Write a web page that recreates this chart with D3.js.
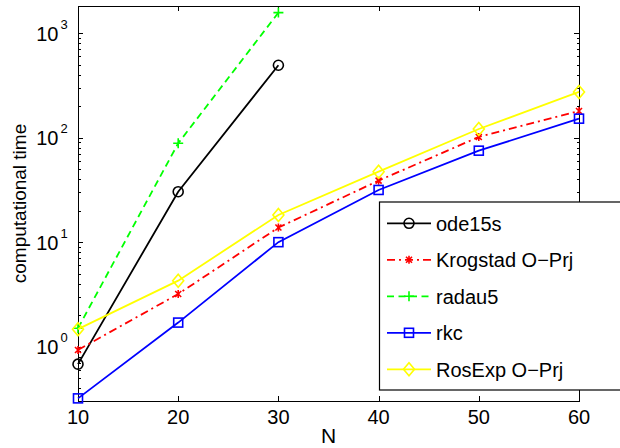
<!DOCTYPE html>
<html><head><meta charset="utf-8">
<script src="https://cdn.jsdelivr.net/npm/d3@7"></script>
<style>
body{margin:0;background:#fff}
svg{display:block}
text{font-family:"Liberation Sans",Arial,sans-serif;fill:#000}
</style>
</head><body>
<svg id="c" width="620" height="448"></svg>
<script>
// ---- data ----
const N = [10, 20, 30, 40, 50, 60];
const ode15s = [0.68, 30.4, 493];
const krogstad = [0.93, 3.19, 13.8, 38.8, 101.6, 180];
const radau5 = [1.5, 88.4, 1573];
const rkc = [0.32, 1.70, 10.0, 31.6, 75.1, 152];
const rosexp = [1.47, 4.28, 18.2, 47.3, 121, 274];
const seriesNames = ["ode15s", "Krogstad O\u2212Prj", "radau5", "rkc", "RosExp O\u2212Prj"];
const xTicks = [10, 20, 30, 40, 50, 60];
const yDecades = [1, 10, 100, 1000];
const yExponents = ["0", "1", "2", "3"];
const xLabel = "N";
const yLabel = "computational time";

// ---- layout ----
const L = 78, R = 579, T = 6, B = 401;
const svg = d3.select("#c");
const x = d3.scaleLinear().domain([10, 60]).range([L, R]);
const y = d3.scaleLog().domain([0.302, 1820]).range([B, T]);

const minor = [];
[0.1, 1, 10, 100, 1000].forEach(d => { for (let k = 2; k <= 9; k++) { const v = d * k; if (v >= 0.302 && v <= 1820) minor.push(v); } });

function styleAxis(g) {
  g.selectAll("path.domain").attr("stroke", "#000").attr("stroke-width", 1).attr("shape-rendering", "crispEdges");
  g.selectAll(".tick line").attr("stroke", "#000").attr("stroke-width", 1).attr("shape-rendering", "crispEdges");
  g.selectAll(".tick text").remove();
}

const axes = svg.append("g");
axes.append("g").attr("transform", `translate(0,${B})`).call(d3.axisBottom(x).tickValues(xTicks).tickSize(-5).tickSizeOuter(0).tickFormat("")).call(styleAxis);
axes.append("g").attr("transform", `translate(0,${T})`).call(d3.axisTop(x).tickValues(xTicks).tickSize(-5).tickSizeOuter(0).tickFormat("")).call(styleAxis);
axes.append("g").attr("transform", `translate(${L},0)`).call(d3.axisLeft(y).tickValues(yDecades).tickSize(-5).tickSizeOuter(0).tickFormat("")).call(styleAxis);
axes.append("g").attr("transform", `translate(${L},0)`).call(d3.axisLeft(y).tickValues(minor).tickSize(-2.5).tickSizeOuter(0).tickFormat("")).call(styleAxis).select("path.domain").remove();
axes.append("g").attr("transform", `translate(${R},0)`).call(d3.axisRight(y).tickValues(yDecades).tickSize(-5).tickSizeOuter(0).tickFormat("")).call(styleAxis);
axes.append("g").attr("transform", `translate(${R},0)`).call(d3.axisRight(y).tickValues(minor).tickSize(-2.5).tickSizeOuter(0).tickFormat("")).call(styleAxis).select("path.domain").remove();

// tick labels
svg.append("g").selectAll("text").data(xTicks).join("text")
  .attr("x", d => x(d)).attr("y", 424).attr("text-anchor", "middle").attr("font-size", 20).text(d => d);

const yl = svg.append("g").selectAll("g").data(yDecades).join("g");
yl.append("text").attr("x", 58.5).attr("y", d => y(d) + 7.5).attr("text-anchor", "end").attr("font-size", 20).text("10");
yl.append("text").attr("x", 60.5).attr("y", d => y(d) - 4.5).attr("font-size", 13).text((d, i) => yExponents[i]);

svg.append("text").attr("x", (L + R) / 2).attr("y", 443).attr("text-anchor", "middle").attr("font-size", 21).text(xLabel);
svg.append("text").attr("transform", `translate(26,${(T + B) / 2}) rotate(-90)`).attr("text-anchor", "middle").attr("font-size", 19).text(yLabel);

// ---- series ----
const series = [
  { name: seriesNames[0], vals: ode15s, color: "#000000", dash: null, marker: "circle" },
  { name: seriesNames[1], vals: krogstad, color: "#ff0000", dash: "8,4,2,4", marker: "star" },
  { name: seriesNames[2], vals: radau5, color: "#00ff00", dash: "7,4.5", marker: "plus" },
  { name: seriesNames[3], vals: rkc, color: "#0000ff", dash: null, marker: "square" },
  { name: seriesNames[4], vals: rosexp, color: "#ffff00", dash: null, marker: "diamond" }
];

function drawMarker(g, type, cx, cy, color) {
  const sw = 1.6;
  if (type === "circle") {
    g.append("circle").attr("cx", cx).attr("cy", cy).attr("r", 5).attr("fill", "none").attr("stroke", color).attr("stroke-width", sw);
  } else if (type === "square") {
    g.append("rect").attr("x", cx - 4.5).attr("y", cy - 4.5).attr("width", 9).attr("height", 9).attr("fill", "none").attr("stroke", color).attr("stroke-width", sw);
  } else if (type === "diamond") {
    g.append("path").attr("d", `M${cx},${cy - 6.5}L${cx + 5.5},${cy}L${cx},${cy + 6.5}L${cx - 5.5},${cy}Z`).attr("fill", "none").attr("stroke", color).attr("stroke-width", sw);
  } else if (type === "plus") {
    g.append("path").attr("d", `M${cx - 5},${cy}L${cx + 5},${cy}M${cx},${cy - 5}L${cx},${cy + 5}`).attr("fill", "none").attr("stroke", color).attr("stroke-width", sw);
  } else if (type === "star") {
    const a = 4, b = 3;
    g.append("path").attr("d", `M${cx - b},${cy - b}L${cx + b},${cy + b}M${cx - b},${cy + b}L${cx + b},${cy - b}M${cx},${cy - a}L${cx},${cy + a}`).attr("fill", "none").attr("stroke", color).attr("stroke-width", sw);
  }
}

const plot = svg.append("g");
series.forEach(s => {
  const pts = s.vals.map((v, i) => [N[i], v]);
  plot.append("path").datum(pts)
    .attr("d", d3.line().x(d => x(d[0])).y(d => y(d[1])))
    .attr("fill", "none").attr("stroke", s.color).attr("stroke-width", 1.8)
    .attr("stroke-dasharray", s.dash);
  const mg = plot.append("g");
  pts.forEach(p => drawMarker(mg, s.marker, x(p[0]), y(p[1]), s.color));
});

// ---- legend ----
const lg = svg.append("g");
lg.append("rect").attr("x", 379.5).attr("y", 202).attr("width", 260).attr("height", 188)
  .attr("fill", "#fff").attr("stroke", "#000").attr("stroke-width", 1.2);
series.forEach((s, i) => {
  const cy = 223.3 + i * 36.5;
  lg.append("line").attr("x1", 387).attr("x2", 431).attr("y1", cy).attr("y2", cy)
    .attr("stroke", s.color).attr("stroke-width", 1.8).attr("stroke-dasharray", s.dash);
  drawMarker(lg, s.marker, 409, cy, s.color);
  lg.append("text").attr("x", 436).attr("y", cy + 7.3).attr("font-size", 20).text(s.name);
});
</script>
</body></html>
